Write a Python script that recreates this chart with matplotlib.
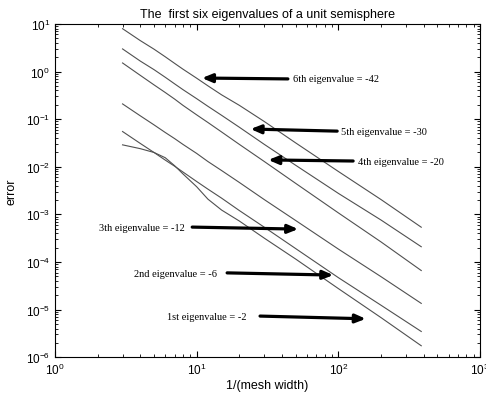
import numpy as np
import matplotlib
import matplotlib.pyplot as plt

plt.rcParams['font.family'] = ['Liberation Sans', 'DejaVu Sans']
plt.rcParams['mathtext.fontset'] = 'custom'
plt.rcParams['mathtext.rm'] = 'Liberation Sans'
plt.rcParams['mathtext.it'] = 'Liberation Sans:italic'
plt.rcParams['mathtext.bf'] = 'Liberation Sans:bold'

# 1/h values and log10(error) for each eigenvalue
inv_h = [3, 4, 5, 6, 7, 8, 10, 12, 15, 20, 30, 50, 100, 200, 384]
log_err = {
    '1st': [-1.54, -1.62, -1.70, -1.81, -1.98, -2.15, -2.42, -2.68, -2.91, -3.14, -3.50, -3.94, -4.56, -5.17, -5.76],
    '2nd': [-1.26, -1.51, -1.70, -1.86, -1.99, -2.11, -2.31, -2.47, -2.66, -2.92, -3.27, -3.72, -4.33, -4.91, -5.46],
    '3rd': [-0.68, -0.93, -1.12, -1.28, -1.41, -1.53, -1.72, -1.89, -2.08, -2.33, -2.69, -3.13, -3.73, -4.31, -4.87],
    '4th': [0.18, -0.08, -0.28, -0.44, -0.58, -0.71, -0.91, -1.07, -1.27, -1.53, -1.89, -2.35, -2.97, -3.58, -4.18],
    '5th': [0.475, 0.22, 0.04, -0.12, -0.26, -0.38, -0.57, -0.73, -0.92, -1.17, -1.53, -1.97, -2.56, -3.12, -3.68],
    '6th': [0.90, 0.65, 0.47, 0.31, 0.17, 0.05, -0.14, -0.30, -0.49, -0.71, -1.05, -1.50, -2.10, -2.69, -3.27],
}

# labels: text, text anchor, alignment, arrow tail, arrow tip (data coords)
labels = [
    ('6th eigenvalue = -42', (48, 0.70), 'left', (44, 0.70), (10.9, 0.73)),
    ('5th eigenvalue = -30', (104, 0.056), 'left', (98, 0.056), (24, 0.062)),
    ('4th eigenvalue = -20', (137, 0.0132), 'left', (127, 0.0132), (32, 0.0139)),
    ('3th eigenvalue = -12', (8.3, 5.4e-4), 'right', (9.3, 5.4e-4), (52, 4.9e-4)),
    ('2nd eigenvalue = -6', (13.9, 5.6e-5), 'right', (16.4, 5.9e-5), (92, 5.3e-5)),
    ('1st eigenvalue = -2', (22.6, 7.0e-6), 'right', (28, 7.3e-6), (156, 6.4e-6)),
]

fig = plt.figure(figsize=(4.86, 4.02), dpi=100)
ax = fig.add_axes([0.113, 0.109, 0.875, 0.829])

for name, vals in log_err.items():
    ax.loglog(inv_h, 10 ** np.array(vals), color='#505050', linewidth=0.8)

for text, txy, ha, tail, tip in labels:
    ax.annotate('', xy=tip, xytext=tail,
                arrowprops=dict(arrowstyle='-|>,head_length=0.6,head_width=0.25',
                                color='black', linewidth=2.3, shrinkA=0, shrinkB=0))
    ax.text(txy[0], txy[1], text, ha=ha, va='center', fontsize=7.5,
            family='Liberation Serif')

ax.set_xlim(1, 1000)
ax.set_ylim(1e-6, 10)
ax.set_xlabel('1/(mesh width)', fontsize=9, labelpad=1)
ax.set_ylabel('error', fontsize=9, labelpad=6)
ax.set_title('The  first six eigenvalues of a unit semisphere', fontsize=9, pad=5)
ax.yaxis.set_major_locator(matplotlib.ticker.LogLocator(base=10, numticks=10))
ax.yaxis.set_minor_locator(matplotlib.ticker.LogLocator(base=10, subs=np.arange(2, 10), numticks=10))
ax.tick_params(which='both', direction='in', top=True, right=True, labelsize=8.5)
ax.tick_params(which='major', length=4)
ax.tick_params(which='minor', length=2)
for s in ax.spines.values():
    s.set_linewidth(0.8)

plt.savefig('out.png', dpi=100)
plt.close()
